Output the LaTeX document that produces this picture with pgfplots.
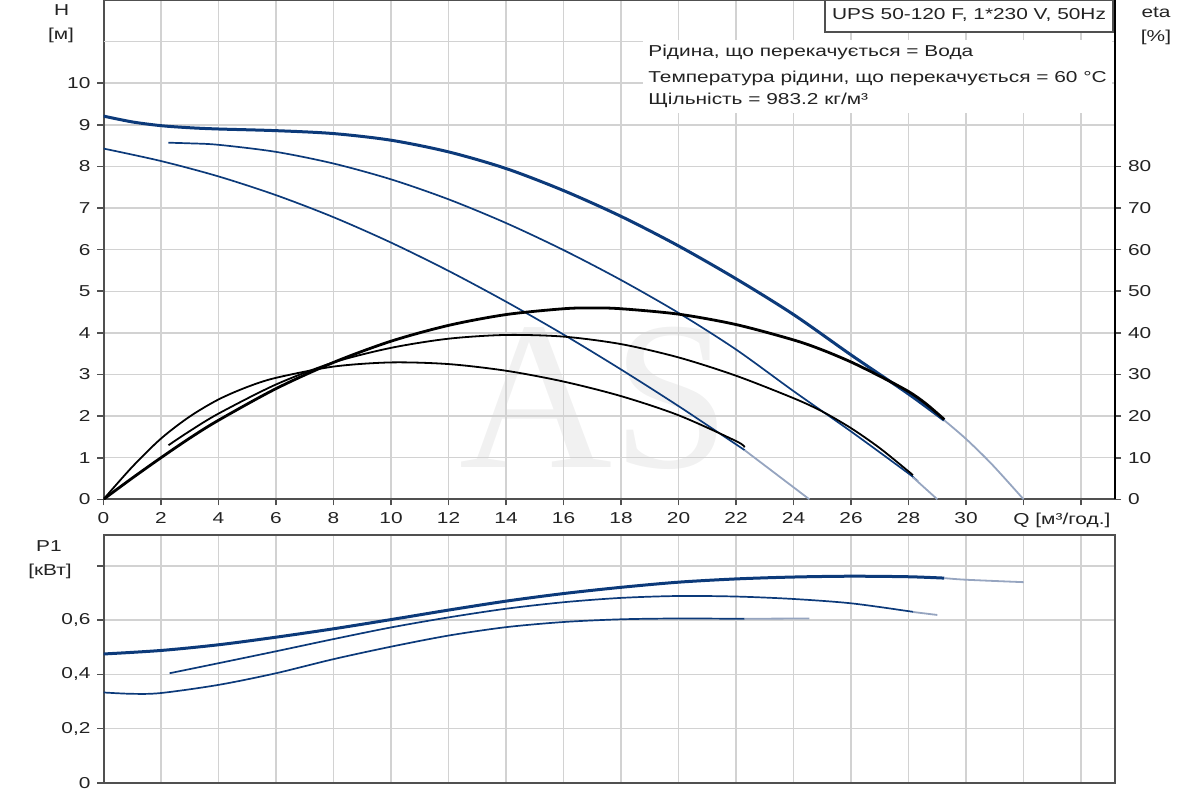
\documentclass[border=0pt]{standalone}
\usepackage{pgfplots}
\pgfplotsset{compat=1.18}
\usepackage{fontspec}
\setmainfont{Liberation Sans}[FakeStretch=1.32]
\newfontfamily\wmfont{Liberation Serif}
\definecolor{curveblue}{RGB}{12,58,122}
\definecolor{lightcont}{RGB}{150,165,192}
\definecolor{gridgray}{RGB}{210,210,210}
\definecolor{axgray}{RGB}{80,80,80}
\definecolor{txt}{RGB}{35,35,35}
\definecolor{wm}{RGB}{241,241,241}
\pgfplotsset{
  base/.style={
    scale only axis, width=505.75pt,
    xmin=0, xmax=35.18,
    axis line style={axgray, line width=1pt},
    tick align=outside, major tick length=3pt,
    tick style={axgray, line width=0.8pt},
    grid=major, grid style={gridgray, line width=0.75pt},
    ticklabel style={font=\fontsize{7.9}{9}\selectfont, text=txt},
    /pgf/number format/assume math mode=true,
  },
  Hthick/.style={curveblue, line width=1.5pt, smooth},
  Hthin/.style={curveblue, line width=0.85pt, smooth},
  Ethick/.style={black, line width=1.4pt, smooth},
  Ethin/.style={black, line width=0.9pt, smooth},
  Cont/.style={lightcont, line width=0.9pt, smooth},
}
\begin{document}
\begin{tikzpicture}[font=\fontsize{7.9}{9}\selectfont]
\useasboundingbox (0pt,0pt) rectangle (600pt,-400pt);
\node[wm, font=\wmfont\fontsize{106}{106}\selectfont, anchor=base, inner sep=0pt] at (297.5pt,-233.5pt) {AS};

% ---------- top panel: H ----------
\begin{axis}[base, height=249.65pt, at={(51.75pt,-249.65pt)}, anchor=south west,
  ymin=0, ymax=12,
  xtick={0,2,...,34},
  xticklabels={0,2,4,6,8,10,12,14,16,18,20,22,24,26,28,30,{},{}},
  ytick={0,1,...,10},
  extra y ticks={11}, extra y tick labels={},
  extra y tick style={grid=major, tick style={draw=none}},
  xtick pos=bottom, ytick pos=left]
\addplot[Hthick] coordinates {(0,9.21) (1,9.07) (2,8.98) (3,8.93) (4,8.90) (6,8.86) (8,8.79) (10,8.63) (12,8.35) (14,7.95) (16,7.42) (18,6.80) (20,6.09) (22,5.30) (24,4.44) (26,3.47) (28,2.53) (29.24,1.90)};
\addplot[Cont] coordinates {(29.24,1.90) (30,1.45) (30.9,0.84) (32,0)};
\addplot[Hthin] coordinates {(2.26,8.57) (3,8.555) (4,8.52) (6,8.35) (8,8.07) (10,7.69) (12,7.21) (14,6.64) (16,5.99) (18,5.27) (20,4.48) (22,3.60) (24,2.60) (26,1.63) (28,0.62) (28.15,0.53)};
\addplot[Cont] coordinates {(28.15,0.53) (29,0)};
\addplot[Hthin] coordinates {(0,8.43) (2,8.13) (4,7.76) (6,7.31) (8,6.78) (10,6.17) (12,5.49) (14,4.75) (16,3.96) (18,3.12) (20,2.24) (22,1.32) (22.3,1.18)};
\addplot[Cont] coordinates {(22.3,1.18) (24.55,0)};
\end{axis}

% ---------- top panel: eta ----------
\begin{axis}[scale only axis, width=505.75pt, height=249.65pt, at={(51.75pt,-249.65pt)}, anchor=south west,
  xmin=0, xmax=35.18, ymin=0, ymax=120,
  axis x line=none, axis y line*=right,
  axis line style={black, line width=1pt, -},
  tick align=outside, major tick length=3pt,
  tick style={axgray, line width=0.8pt},
  ytick={0,10,...,80},
  ticklabel style={font=\fontsize{7.9}{9}\selectfont, text=txt},
  /pgf/number format/assume math mode=true]
\addplot[Ethick] coordinates {(0,0) (1,5.1) (2,10.0) (3,14.7) (4,19.0) (6,26.6) (8,32.9) (10,38.0) (12,41.8) (14,44.4) (16,45.8) (17,46.0) (18,45.8) (20,44.5) (22,42.0) (24,38.3) (25,35.9) (26,33.0) (27,29.6) (28,25.9) (28.6,23.0) (29.24,19.2)};
\addplot[Ethin] coordinates {(2.26,13.0) (3,16.4) (4,20.6) (6,27.6) (8,32.9) (10,36.4) (12,38.6) (14,39.5) (16,39.1) (18,37.3) (20,34.1) (22,29.7) (24,24.3) (25,21.1) (26,17.1) (27,12.3) (28,6.7) (28.15,5.8)};
\addplot[Ethin] coordinates {(0,0) (1,7.8) (2,14.6) (3,19.9) (4,24.0) (5,27.0) (6,29.2) (8,31.9) (10,32.9) (12,32.5) (14,30.9) (16,28.3) (18,24.8) (20,20.2) (22,14.0) (22.3,12.5)};
\end{axis}

% ---------- bottom panel: P1 ----------
\begin{axis}[base, height=123.85pt, at={(51.75pt,-391.35pt)}, anchor=south west,
  ymin=0, ymax=0.914,
  xtick={0,2,...,34}, xticklabels={}, x tick style={draw=none},
  ytick={0,0.2,0.4,0.6,0.8}, yticklabels={0,{0,2},{0,4},{0,6},{}},
  ytick pos=left]
\addplot[Hthick] coordinates {(0,0.475) (2,0.488) (4,0.509) (6,0.537) (8,0.568) (10,0.602) (12,0.637) (14,0.670) (16,0.698) (18,0.721) (20,0.740) (22,0.752) (24,0.759) (26,0.762) (28,0.760) (29.24,0.755)};
\addplot[Cont] coordinates {(29.24,0.755) (30,0.749) (32,0.740)};
\addplot[Hthin] coordinates {(2.3,0.404) (4,0.441) (6,0.485) (8,0.530) (10,0.573) (12,0.610) (14,0.642) (16,0.666) (18,0.682) (20,0.689) (22,0.687) (24,0.678) (26,0.662) (28,0.633) (28.15,0.630)};
\addplot[Cont] coordinates {(28.15,0.630) (29,0.619)};
\addplot[Hthin] coordinates {(0,0.333) (1,0.328) (2,0.331) (4,0.361) (6,0.404) (8,0.456) (10,0.502) (12,0.543) (14,0.574) (16,0.593) (18,0.603) (20,0.606) (22,0.605) (22.3,0.605)};
\addplot[Cont] coordinates {(22.3,0.605) (24.55,0.606)};
\end{axis}

% ---------- texts ----------
\node[txt] at (30.85pt,-5pt) {H};
\node[txt] at (30.5pt,-17.5pt) {[м]};
\node[txt] at (578pt,-6pt) {eta};
\node[txt] at (578pt,-18.5pt) {[\%]};
\node[txt] at (24.5pt,-273pt) {P1};
\node[txt] at (25pt,-285.5pt) {[кВт]};
\node[txt, anchor=west, inner sep=0pt] at (506.5pt,-260pt) {Q [м³/год.]};
\fill[white] (321.5pt,-20pt) rectangle (556pt,-56.5pt);
\draw[axgray, line width=0.8pt, fill=white] (412.5pt,0pt) rectangle (556.5pt,-16pt);
\node[txt] at (484.5pt,-7.5pt) {UPS 50-120 F, 1*230 V, 50Hz};
\node[txt, anchor=west, inner sep=0pt] at (324pt,-26pt) {Рідина, що перекачується = Вода};
\node[txt, anchor=west, inner sep=0pt] at (324pt,-39pt) {Температура рідини, що перекачується = 60 °C};
\node[txt, anchor=west, inner sep=0pt] at (324pt,-50pt) {Щільність = 983.2 кг/м³};
\end{tikzpicture}
\end{document}
